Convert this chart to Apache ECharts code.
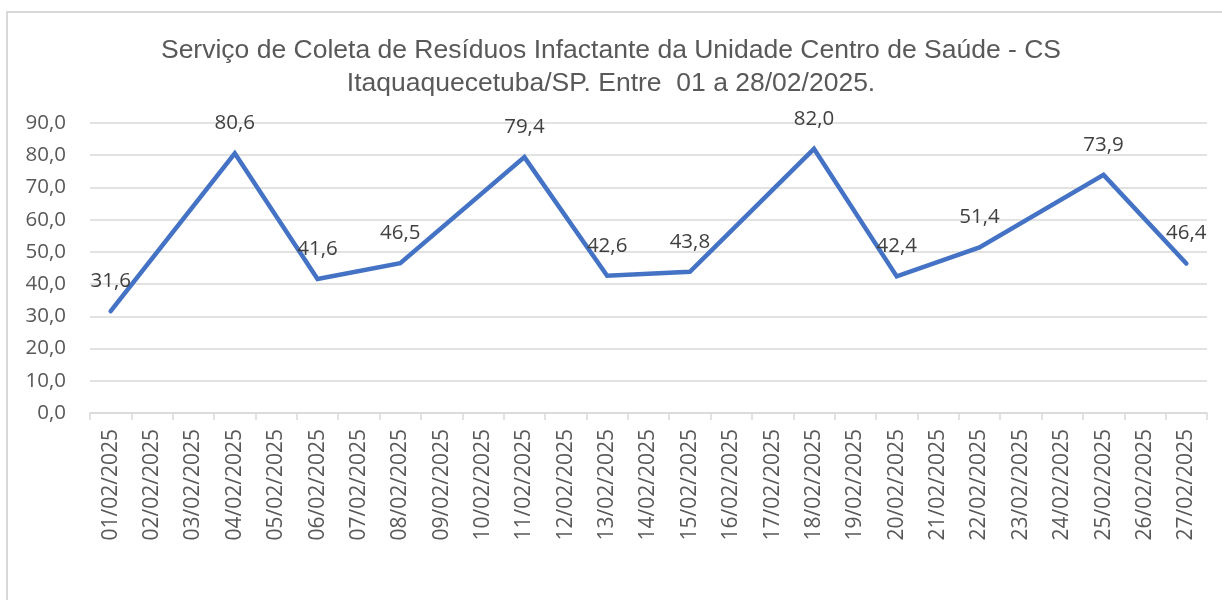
<!DOCTYPE html>
<html>
<head>
<meta charset="utf-8">
<style>
  body{ margin:0; background:#fff; }
  .frame{
    position:absolute; left:6px; top:11px; width:1300px; height:700px;
    border-left:2px solid #d9d9d9; border-top:2px solid #d9d9d9;
  }
  #chart{ position:absolute; left:0; top:0; width:1222px; height:600px; }
</style>
<script src="https://cdn.jsdelivr.net/npm/echarts@6/dist/echarts.min.js"></script>
</head>
<body>
<div class="frame"></div>
<div id="chart"></div>
<script>
  // dias de fevereiro
  var days = ['01/02/2025','02/02/2025','03/02/2025','04/02/2025','05/02/2025','06/02/2025','07/02/2025',
    '08/02/2025','09/02/2025','10/02/2025','11/02/2025','12/02/2025','13/02/2025','14/02/2025',
    '15/02/2025','16/02/2025','17/02/2025','18/02/2025','19/02/2025','20/02/2025','21/02/2025',
    '22/02/2025','23/02/2025','24/02/2025','25/02/2025','26/02/2025','27/02/2025'];
  // kg coletado (dias sem coleta = null)
  var values = [31.6, null, null, 80.6, null, 41.6, null, 46.5, null, null, 79.4, null, 42.6, null,
    43.8, null, null, 82.0, null, 42.4, null, 51.4, null, null, 73.9, null, 46.4];

  var fmt = function (v) { return v.toFixed(1).replace('.', ','); };

  var myChart = echarts.init(document.getElementById('chart'));
  myChart.setOption({
    animation: false,
    title: {
      text: 'Serviço de Coleta de Resíduos Infactante da Unidade Centro de Saúde - CS\nItaquaquecetuba/SP. Entre  01 a 28/02/2025.',
      left: 'center',
      top: 29,
      textStyle: {
        fontFamily: 'Liberation Sans Narrow, Liberation Sans, sans-serif',
        fontSize: 26.5,
        fontWeight: 'normal',
        color: '#595959',
        lineHeight: 33
      }
    },
    grid: { left: 90, right: 15, top: 123, bottom: 187 },
    xAxis: {
      type: 'category',
      data: days,
      boundaryGap: true,
      axisLine: { lineStyle: { color: '#d9d9d9', width: 1.5 } },
      axisTick: { show: true, length: 7, lineStyle: { color: '#d9d9d9', width: 1.5 } },
      axisLabel: {
        rotate: 90,
        interval: 0,
        margin: 16,
        fontFamily: 'Open Sans, sans-serif',
        fontSize: 21,
        color: '#595959'
      }
    },
    yAxis: {
      type: 'value',
      min: 0,
      max: 90,
      interval: 10,
      axisLine: { show: false },
      axisTick: { show: false },
      splitLine: { lineStyle: { color: '#d9d9d9', width: 1.5 } },
      axisLabel: {
        margin: 24,
        fontFamily: 'Open Sans, sans-serif',
        fontSize: 20.5,
        color: '#595959',
        formatter: fmt
      }
    },
    series: [{
      type: 'line',
      data: values,
      connectNulls: true,
      symbol: 'circle',
      symbolSize: 1,
      showAllSymbol: true,
      itemStyle: { color: 'rgba(0,0,0,0)' },
      lineStyle: { color: '#4472c4', width: 4.5, cap: 'round', join: 'miter' },
      label: {
        show: true,
        position: 'top',
        distance: 19,
        fontFamily: 'Open Sans, sans-serif',
        fontSize: 20.5,
        color: '#404040',
        formatter: function (p) { return fmt(p.value); }
      }
    }]
  });
</script>
</body>
</html>
